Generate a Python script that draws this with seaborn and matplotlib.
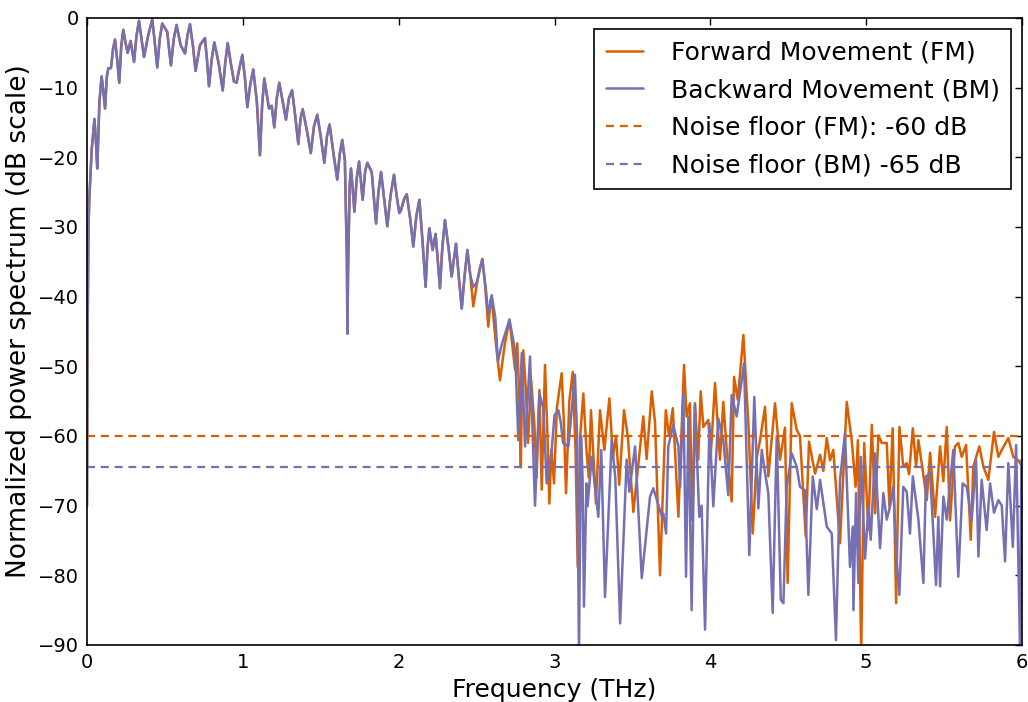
import numpy as np
import pandas as pd
import seaborn as sns
import matplotlib
matplotlib.use("Agg")
import matplotlib.pyplot as plt

# low-frequency part: both movements overlap
freq_shared = [0.000, 0.004, 0.010, 0.015, 0.030, 0.048, 0.058, 0.066, 0.080, 0.094,
               0.105, 0.116, 0.127, 0.137, 0.154, 0.167, 0.180, 0.194, 0.207, 0.220,
               0.233, 0.247, 0.261, 0.280, 0.302, 0.318, 0.334, 0.350, 0.366, 0.393,
               0.419, 0.435, 0.451, 0.467, 0.483, 0.515, 0.527, 0.539, 0.557, 0.575,
               0.601, 0.629, 0.645, 0.661, 0.680, 0.697, 0.725, 0.757, 0.770, 0.783,
               0.800, 0.817, 0.845, 0.871, 0.887, 0.903, 0.923, 0.943, 0.960, 0.980,
               0.997, 1.013, 1.029, 1.048, 1.067, 1.090, 1.110, 1.124, 1.138, 1.168,
               1.185, 1.202, 1.218, 1.234, 1.256, 1.277, 1.296, 1.316, 1.336, 1.356,
               1.370, 1.384, 1.410, 1.436, 1.457, 1.478, 1.500, 1.523, 1.540, 1.557,
               1.582, 1.606, 1.622, 1.638, 1.655, 1.668, 1.671, 1.676, 1.686, 1.694,
               1.705, 1.716, 1.731, 1.746, 1.769, 1.785, 1.799, 1.827, 1.840, 1.855,
               1.870, 1.887, 1.907, 1.927, 1.948, 1.970, 1.987, 2.004, 2.015, 2.035,
               2.052, 2.075, 2.094, 2.113, 2.133, 2.153, 2.173, 2.185, 2.197, 2.218,
               2.237, 2.250, 2.265, 2.280, 2.297, 2.320, 2.340, 2.368, 2.385, 2.405,
               2.423, 2.441, 2.460]
db_shared = [-70.0, -45.0, -30.0, -26.0, -19.0, -14.5, -18.0, -21.6, -12.0, -8.4,
             -10.5, -13.0, -8.5, -7.2, -7.2, -4.5, -3.1, -6.0, -9.3, -4.0,
             -1.7, -3.5, -5.0, -3.3, -6.3, -2.5, -0.4, -3.0, -5.6, -2.5,
             -0.2, -3.5, -7.1, -3.0, -0.8, -2.0, -4.5, -6.8, -3.0, -1.0,
             -3.9, -5.1, -2.5, -0.9, -4.0, -7.6, -3.9, -2.9, -6.0, -9.8,
             -6.0, -3.5, -6.5, -10.4, -6.5, -3.6, -6.5, -9.1, -9.3, -7.0,
             -5.3, -8.5, -12.8, -9.5, -7.4, -12.0, -19.7, -12.5, -8.7, -13.0,
             -12.6, -15.7, -11.5, -9.3, -12.0, -14.6, -11.5, -10.4, -14.0, -18.1,
             -14.5, -13.1, -16.0, -19.4, -15.5, -13.9, -17.0, -20.8, -17.0, -15.3,
             -19.5, -23.2, -19.5, -17.5, -20.5, -35.0, -45.3, -35.0, -24.0, -21.6,
             -24.5, -27.8, -23.0, -20.6, -26.1, -22.0, -20.8, -22.1, -25.5, -29.5,
             -25.0, -22.1, -26.0, -29.9, -25.5, -22.5, -25.5, -28.0, -27.6, -26.0,
             -25.3, -29.0, -32.8, -28.5, -26.1, -32.0, -38.6, -33.0, -30.2, -33.3,
             -31.0, -34.5, -38.8, -33.0, -29.0, -33.0, -37.1, -32.4, -37.0, -41.7,
             -37.0, -33.3, -37.0]

# high-frequency part, forward movement
freq_fm = [2.479, 2.501, 2.520, 2.537, 2.555, 2.575, 2.590, 2.600, 2.625, 2.650,
           2.680, 2.711, 2.747, 2.761, 2.775, 2.784, 2.790, 2.800, 2.815, 2.830,
           2.850, 2.870, 2.885, 2.903, 2.918, 2.939, 2.955, 2.967, 2.980, 2.997,
           3.015, 3.046, 3.060, 3.074, 3.095, 3.117, 3.135, 3.149, 3.165, 3.185,
           3.205, 3.220, 3.234, 3.266, 3.292, 3.320, 3.352, 3.375, 3.395, 3.415,
           3.446, 3.470, 3.506, 3.570, 3.591, 3.624, 3.645, 3.677, 3.714, 3.735,
           3.759, 3.795, 3.831, 3.848, 3.869, 3.884, 3.901, 3.922, 3.938, 3.955,
           3.987, 4.002, 4.030, 4.062, 4.083, 4.105, 4.137, 4.152, 4.176, 4.212,
           4.244, 4.272, 4.298, 4.319, 4.351, 4.372, 4.415, 4.447, 4.479, 4.496,
           4.522, 4.554, 4.575, 4.612, 4.633, 4.672, 4.704, 4.725, 4.747, 4.768,
           4.789, 4.832, 4.875, 4.907, 4.932, 4.947, 4.968, 4.987, 5.014, 5.036,
           5.057, 5.078, 5.100, 5.132, 5.149, 5.170, 5.192, 5.213, 5.238, 5.260,
           5.275, 5.299, 5.320, 5.335, 5.363, 5.389, 5.410, 5.442, 5.474, 5.495,
           5.517, 5.538, 5.570, 5.591, 5.613, 5.641, 5.671, 5.687, 5.726, 5.752,
           5.784, 5.820, 5.848, 5.870, 5.912, 5.944, 5.976, 6.000]
db_fm = [-41.4, -38.3, -36.0, -34.6, -38.5, -44.3, -40.5, -41.0, -47.0, -52.0,
         -47.0, -43.3, -50.5, -46.7, -55.0, -64.5, -55.0, -47.7, -53.0, -61.0,
         -52.0, -58.0, -66.0, -53.4, -67.7, -49.8, -60.0, -69.7, -62.0, -66.8,
         -56.0, -51.0, -58.0, -68.2, -55.0, -50.8, -62.0, -78.8, -60.0, -53.9,
         -62.0, -66.0, -56.3, -69.7, -56.3, -62.0, -54.6, -63.0, -60.0, -67.0,
         -56.3, -60.0, -70.9, -57.2, -63.3, -53.6, -58.0, -80.0, -56.3, -60.0,
         -56.0, -71.6, -49.8, -57.2, -55.3, -72.1, -55.3, -63.4, -53.6, -58.7,
         -57.7, -63.0, -52.4, -63.4, -55.1, -62.0, -69.4, -51.5, -54.8, -45.5,
         -58.2, -74.0, -63.0, -60.6, -55.8, -65.8, -55.3, -63.4, -58.8, -81.1,
         -55.3, -59.1, -60.0, -74.4, -60.8, -65.4, -62.7, -65.0, -60.3, -63.5,
         -62.0, -75.4, -55.1, -60.6, -67.3, -60.6, -91.0, -61.0, -73.5, -58.4,
         -71.1, -59.9, -61.0, -61.0, -70.1, -58.9, -84.0, -58.7, -64.4, -63.9,
         -65.5, -58.9, -64.4, -60.6, -65.0, -69.2, -62.4, -71.6, -61.5, -66.5,
         -58.7, -72.1, -61.5, -61.0, -63.0, -61.3, -74.9, -64.4, -61.5, -64.4,
         -66.3, -59.4, -63.0, -62.0, -60.3, -63.0, -63.5, -64.4]

# high-frequency part, backward movement
freq_bm = [2.479, 2.501, 2.537, 2.560, 2.575, 2.597, 2.620, 2.637, 2.660, 2.711,
           2.747, 2.768, 2.790, 2.811, 2.843, 2.875, 2.903, 2.928, 2.950, 2.982,
           3.000, 3.025, 3.040, 3.055, 3.089, 3.131, 3.145, 3.157, 3.170, 3.180,
           3.189, 3.205, 3.212, 3.239, 3.281, 3.300, 3.324, 3.367, 3.390, 3.421,
           3.463, 3.480, 3.517, 3.560, 3.613, 3.634, 3.688, 3.698, 3.716, 3.730,
           3.762, 3.795, 3.806, 3.827, 3.844, 3.859, 3.880, 3.901, 3.929, 3.944,
           3.966, 3.994, 4.019, 4.051, 4.083, 4.115, 4.137, 4.169, 4.216, 4.250,
           4.282, 4.308, 4.330, 4.351, 4.372, 4.400, 4.426, 4.452, 4.469, 4.490,
           4.522, 4.554, 4.575, 4.607, 4.629, 4.657, 4.683, 4.704, 4.747, 4.779,
           4.806, 4.832, 4.864, 4.896, 4.914, 4.918, 4.935, 4.950, 4.965, 4.993,
           5.014, 5.029, 5.057, 5.089, 5.110, 5.132, 5.153, 5.174, 5.196, 5.213,
           5.238, 5.260, 5.281, 5.299, 5.335, 5.367, 5.384, 5.410, 5.431, 5.448,
           5.463, 5.474, 5.495, 5.517, 5.534, 5.559, 5.591, 5.619, 5.645, 5.677,
           5.705, 5.720, 5.741, 5.773, 5.795, 5.820, 5.848, 5.870, 5.891, 5.912,
           5.941, 5.962, 5.987, 5.996, 6.005]
db_bm = [-38.6, -38.0, -34.6, -39.0, -42.6, -39.8, -43.0, -49.3, -47.0, -43.3,
         -47.7, -60.6, -48.1, -61.5, -48.6, -70.0, -53.9, -56.0, -66.8, -62.0,
         -57.0, -56.3, -58.0, -61.0, -61.5, -51.2, -60.0, -91.0, -60.0, -66.0,
         -84.5, -66.8, -70.1, -63.0, -71.6, -62.0, -83.1, -60.6, -66.0, -86.9,
         -63.4, -68.0, -61.5, -80.4, -68.7, -67.5, -71.5, -71.1, -74.0, -61.5,
         -58.4, -61.5, -67.3, -53.9, -80.2, -57.2, -85.0, -55.5, -71.6, -70.0,
         -87.8, -58.2, -70.1, -57.5, -60.6, -68.5, -54.1, -57.2, -49.6, -77.1,
         -54.4, -70.4, -62.0, -65.3, -68.2, -85.4, -60.1, -83.5, -84.0, -67.3,
         -62.5, -64.4, -67.3, -67.8, -82.8, -65.8, -70.5, -66.3, -73.0, -74.0,
         -89.3, -66.3, -59.6, -78.8, -73.0, -85.0, -68.2, -81.1, -63.0, -77.6,
         -70.1, -74.9, -62.5, -76.1, -68.2, -72.0, -70.1, -67.3, -78.0, -82.8,
         -67.3, -68.0, -74.0, -65.8, -72.0, -81.1, -65.8, -65.3, -74.0, -81.4,
         -71.6, -81.6, -68.7, -72.0, -67.7, -62.0, -80.2, -66.8, -67.3, -72.1,
         -63.4, -77.3, -66.3, -73.5, -66.8, -71.0, -69.2, -70.0, -78.0, -63.9,
         -75.9, -61.3, -90.5, -63.5, -76.0]

noise_fm = -60.0
noise_bm = -64.5

fm_df = pd.DataFrame({"freq": freq_shared + freq_fm, "db": db_shared + db_fm})
bm_df = pd.DataFrame({"freq": freq_shared + freq_bm, "db": db_shared + db_bm})

orange = "#d95f02"
purple = "#7570b3"

sns.set_style("white")
plt.rcParams["font.family"] = ["DejaVu Sans"]
plt.rcParams["axes.edgecolor"] = "black"
plt.rcParams["text.color"] = "black"
plt.rcParams["axes.labelcolor"] = "black"
plt.rcParams["xtick.color"] = "black"
plt.rcParams["ytick.color"] = "black"
plt.rcParams["xtick.direction"] = "in"
plt.rcParams["ytick.direction"] = "in"

fig = plt.figure(figsize=(10.28, 7.02), dpi=100)
ax = fig.add_axes([0.0846, 0.0812, 0.9096, 0.8932])

sns.lineplot(data=fm_df, x="freq", y="db", sort=False, estimator=None,
             color=orange, lw=1.8, label="Forward Movement (FM)", ax=ax)
sns.lineplot(data=bm_df, x="freq", y="db", sort=False, estimator=None,
             color=purple, lw=1.8, label="Backward Movement (BM)", ax=ax)
ax.axhline(noise_fm, color=orange, lw=1.6, dashes=(3.6, 2.6),
           label="Noise floor (FM): -60 dB")
ax.axhline(noise_bm, color=purple, lw=1.6, dashes=(3.6, 2.6),
           label="Noise floor (BM) -65 dB")

ax.set_xlim(0, 6)
ax.set_ylim(-90, 0)
ax.set_xticks(range(0, 7))
ax.set_yticks(range(-90, 1, 10))
ax.tick_params(which="both", top=True, right=True, length=5, width=1,
               labelsize=14, colors="black", pad=6)
for sp in ax.spines.values():
    sp.set_linewidth(1.2)
    sp.set_color("black")

ax.set_xlabel("Frequency (THz)", fontsize=18, labelpad=4)
ax.set_ylabel("Normalized power spectrum (dB scale)", fontsize=19, labelpad=4)
ax.yaxis.label.set_y(0.517)

leg = ax.legend(loc="upper right", fontsize=18, frameon=True, fancybox=False,
                edgecolor="black", framealpha=1, handlelength=1.5,
                handletextpad=1.1, borderaxespad=0.45, labelspacing=0.55,
                borderpad=0.45)
leg.get_frame().set_linewidth(1.2)

fig.savefig("out.png", dpi=100)
